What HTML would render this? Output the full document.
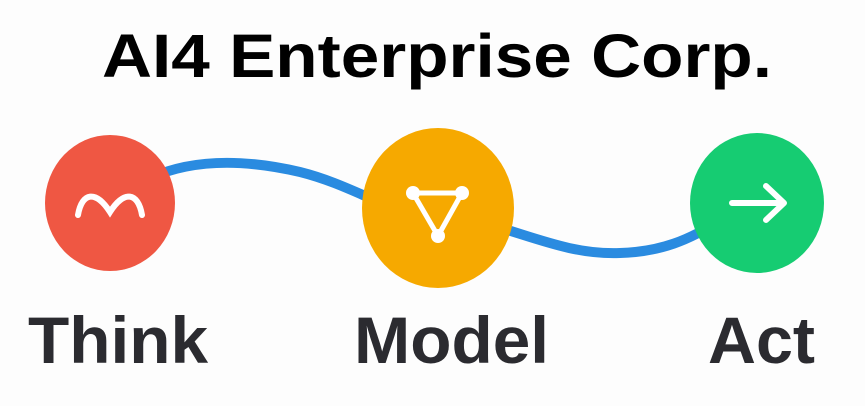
<!DOCTYPE html>
<html><head><style>
html,body{margin:0;padding:0;background:#fdfdfd;}
svg{display:block;}
</style></head><body>
<svg width="865" height="406" viewBox="0 0 865 406" xmlns="http://www.w3.org/2000/svg">
<rect width="865" height="406" fill="#fdfdfd"/>
<text x="102" y="77" font-family="Liberation Sans, sans-serif" font-weight="bold" font-size="61" fill="#000" textLength="670" lengthAdjust="spacingAndGlyphs">AI4 Enterprise Corp.</text>
<path d="M150 178 C190 160 240 158 300 172 C340 182 370 200 400 210" fill="none" stroke="#2a8be0" stroke-width="10"/>
<path d="M480 222 C530 235 570 255 620 253 C660 252 690 240 720 220" fill="none" stroke="#2a8be0" stroke-width="10"/>
<ellipse cx="110" cy="203" rx="65" ry="68" fill="#ef5743"/>
<ellipse cx="438" cy="208" rx="76" ry="80" fill="#f6a900"/>
<ellipse cx="757" cy="203" rx="67" ry="70" fill="#16cc72"/>
<path d="M78 215 C82 192 96 190 110 212 C124 190 138 192 142 215" fill="none" stroke="#fff" stroke-width="6" stroke-linecap="round"/>
<path d="M413 193 L462 193 L438 236 Z" stroke="#fff" stroke-width="5" fill="none" stroke-linejoin="round"/>
<circle cx="413" cy="193" r="7" fill="#fff"/>
<circle cx="462" cy="193" r="7" fill="#fff"/>
<circle cx="438" cy="236" r="7" fill="#fff"/>
<g stroke="#fff" stroke-width="6" fill="none" stroke-linecap="round" stroke-linejoin="round">
<path d="M732 203 L782 203 M766 186 L784 203 L766 220"/>
</g>
<g font-family="Liberation Sans, sans-serif" font-weight="bold" font-size="66" fill="#2b2b30">
<text x="28" y="363" textLength="180" lengthAdjust="spacingAndGlyphs">Think</text>
<text x="354" y="363" textLength="195" lengthAdjust="spacingAndGlyphs">Model</text>
<text x="708" y="363" textLength="107" lengthAdjust="spacingAndGlyphs">Act</text>
</g>
</svg>
</body></html>
